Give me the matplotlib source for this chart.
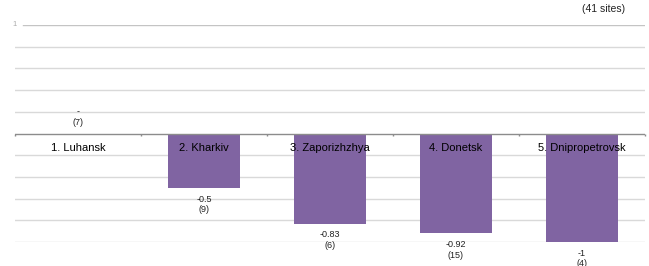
import numpy as np
import matplotlib
matplotlib.use("Agg")
import matplotlib.pyplot as plt

plt.rcParams["font.family"] = ["Liberation Sans", "DejaVu Sans"]

# data
categories = ["1. Luhansk", "2. Kharkiv", "3. Zaporizhzhya", "4. Donetsk", "5. Dnipropetrovsk"]
values = [np.nan, -0.5, -0.83, -0.92, -1.0]
value_labels = ["-", "-0.5", "-0.83", "-0.92", "-1"]
site_counts = [7, 9, 6, 15, 4]
grid_values = [1.0, 0.8, 0.6, 0.4, 0.2, -0.2, -0.4, -0.6, -0.8, -1.0]

bar_color = "#8064a2"

fig = plt.figure(figsize=(6.49, 2.66), dpi=100)
ax = fig.add_axes([15 / 649, 24 / 266, 630 / 649, 217 / 266])
ax.set_xlim(-0.5, len(categories) - 0.5)
ax.set_ylim(-1.0, 1.0)
ax.axis("off")

# gridlines (top one starts a little to the right, like the original)
for g in grid_values:
    if g == 1.0:
        ax.axhline(g, xmin=8 / 630, color="#c4c4c4", lw=1.0, zorder=0)
    else:
        ax.axhline(g, color="#d9d9d9", lw=1.0, zorder=0)

x = np.arange(len(categories))
ax.bar(x, np.nan_to_num(values), width=0.57, color=bar_color, zorder=2)

# zero axis with ticks at category boundaries
ax.axhline(0, color="#8c8c8c", lw=1.0, zorder=3)
ax.vlines(np.arange(len(categories) + 1) - 0.5, -0.025, 0, color="#8c8c8c", lw=1.0,
          zorder=3, clip_on=False)

for xi, cat, v, lab, n in zip(x, categories, values, value_labels, site_counts):
    ax.text(xi, -0.13, cat, ha="center", va="center", fontsize=8, color="black", zorder=4)
    if np.isnan(v):
        ax.annotate(f"{lab}\n({n})", (xi, 0), xytext=(0, 5), textcoords="offset points",
                    ha="center", va="bottom", fontsize=6.5, color="#222222",
                    linespacing=1.2)
    else:
        ax.annotate(f"{lab}\n({n})", (xi, v), xytext=(0, -5), textcoords="offset points",
                    ha="center", va="top", fontsize=6.5, color="#222222",
                    linespacing=1.2, annotation_clip=False)

# y tick label (only the top one is shown)
ax.text(0, 1.0, "1", transform=ax.get_yaxis_transform(), ha="center", va="center",
        fontsize=5.5, color="#aaaaaa")

# title pieces, mostly cropped off at the top
fig.text(0.035, 1.0 + 1.5 / 266, "Average change by oblast", ha="left", va="baseline",
         fontsize=8, color="#222222")
fig.text(604 / 649, 1 - 9 / 266, "(41 sites)", ha="center", va="center",
         fontsize=7.5, color="#222222")

fig.savefig("out.png", dpi=100)
